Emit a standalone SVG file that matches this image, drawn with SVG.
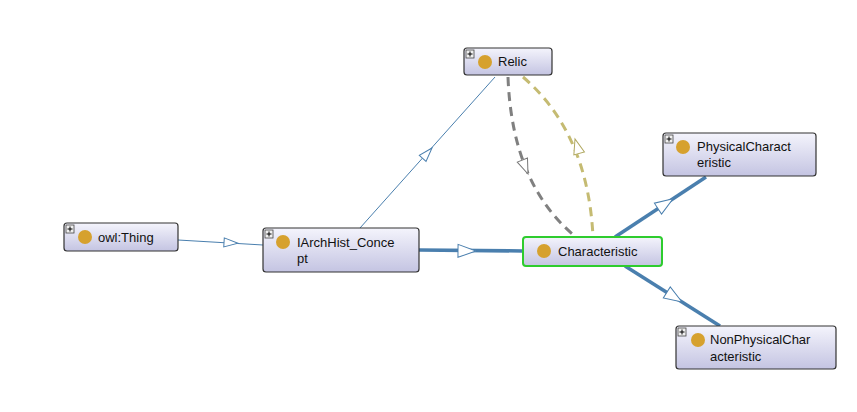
<svg xmlns="http://www.w3.org/2000/svg" xmlns:xlink="http://www.w3.org/1999/xlink" width="857" height="412" viewBox="0 0 857 412">
<defs>
<linearGradient id="ng" x1="0" y1="0" x2="0" y2="1">
<stop offset="0" stop-color="#f4f4fc"/>
<stop offset="1" stop-color="#c4c4e2"/>
</linearGradient>
<path id="ahs" d="M0,0 L-14,-4.5 L-14,4.5 Z"/>
<path id="ahd" d="M0,0 L-15,-5.5 L-15,5.5 Z"/>
<path id="ahl" d="M0,0 L-18,-6.5 L-18,6.5 Z"/>
<g id="plus"><rect x="0" y="0" width="8" height="8" fill="#f0f0f0" stroke="#444" stroke-width="0.8"/><path d="M1.5,4 H6.5 M4,1.5 V6.5" stroke="#000" stroke-width="1"/></g>
</defs>
<style>
.node{fill:url(#ng);stroke:#333;stroke-width:1.2}
.sel{fill:url(#ng);stroke:#2ecc2e;stroke-width:2}
.dot{fill:#d6a12e}
.lbl{font-family:"Liberation Sans",Arial,sans-serif;font-size:13px;fill:#111}
.thin{stroke:#4a7fae;stroke-width:1;fill:none}
.thick{stroke:#4a7fae;stroke-width:3.5;fill:none}
.ah{fill:#fff;stroke:#4a7fae;stroke-width:1}
</style>
<rect width="857" height="412" fill="#fff"/>
<g id="edges">
<line class="thin" x1="178" y1="240" x2="263" y2="245"/>
<use xlink:href="#ahs" class="ah" transform="translate(238,243.2) rotate(3.4)"/>
<line class="thin" x1="360" y1="228" x2="495" y2="77"/>
<use xlink:href="#ahs" class="ah" transform="translate(432,148) rotate(-48.2)"/>
<line class="thick" x1="419" y1="250" x2="523" y2="251"/>
<use xlink:href="#ahl" class="ah" transform="translate(476,251) rotate(0.5)"/>
<line class="thick" x1="615" y1="237" x2="706" y2="177"/>
<use xlink:href="#ahl" class="ah" transform="translate(673,198.7) rotate(-33.4)"/>
<line class="thick" x1="625" y1="266" x2="720" y2="326"/>
<use xlink:href="#ahl" class="ah" transform="translate(682,302) rotate(32.3)"/>
<path d="M508,77 Q512,185 576,237" fill="none" stroke="#808080" stroke-width="3" stroke-dasharray="9,6"/>
<use xlink:href="#ahd" fill="#fff" stroke="#777" stroke-width="1" transform="translate(528,174) rotate(68)"/>
<path d="M523,77 Q588,133 593,237" fill="none" stroke="#c5bb72" stroke-width="3" stroke-dasharray="9,6"/>
<use xlink:href="#ahd" fill="#fff" stroke="#b0a860" stroke-width="1" transform="translate(575,139) rotate(-106)"/>
</g>
<g id="relic">
<rect class="node" x="464" y="48" width="88" height="27" rx="3"/>
<use xlink:href="#plus" x="466" y="50"/>
<circle class="dot" cx="485" cy="62" r="7"/>
<text class="lbl" x="498" y="66">Relic</text>
</g>
<g id="owlthing">
<rect class="node" x="64" y="223" width="114" height="28" rx="3"/>
<use xlink:href="#plus" x="66" y="225"/>
<circle class="dot" cx="85" cy="237" r="7"/>
<text class="lbl" x="98" y="242">owl:Thing</text>
</g>
<g id="iarchhist">
<rect class="node" x="263" y="228" width="156" height="44" rx="3"/>
<use xlink:href="#plus" x="265" y="230"/>
<circle class="dot" cx="283" cy="242" r="7"/>
<text class="lbl" x="297" y="247">IArchHist_Conce</text>
<text class="lbl" x="297" y="263">pt</text>
</g>
<g id="characteristic">
<rect class="sel" x="523" y="237" width="139" height="29" rx="3"/>
<circle class="dot" cx="544" cy="251" r="7"/>
<text class="lbl" x="558" y="256">Characteristic</text>
</g>
<g id="physical">
<rect class="node" x="663" y="133" width="153" height="43" rx="3"/>
<use xlink:href="#plus" x="665" y="135"/>
<circle class="dot" cx="683" cy="147" r="7"/>
<text class="lbl" x="697" y="151">PhysicalCharact</text>
<text class="lbl" x="697" y="167">eristic</text>
</g>
<g id="nonphysical">
<rect class="node" x="676" y="326" width="160" height="43" rx="3"/>
<use xlink:href="#plus" x="678" y="328"/>
<circle class="dot" cx="698" cy="340" r="7"/>
<text class="lbl" x="710" y="344">NonPhysicalChar</text>
<text class="lbl" x="710" y="361">acteristic</text>
</g>
</svg>
